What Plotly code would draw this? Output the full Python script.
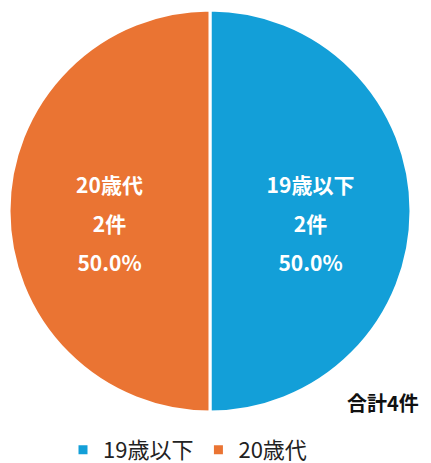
import plotly.graph_objects as go

labels = ["19歳以下", "20歳代"]
values = [2, 2]
colors = ["#139FD8", "#EA7433"]

FONT = "Noto Sans CJK JP"
sp = "<span style='font-size:21px;font-weight:bold'>"
tmpl = ("<span style='font-size:24px'>&nbsp;</span><br>" + sp + "%{label}</span><br><br>"
        + sp + "%{value}件</span><br><br>" + sp + "%{percent:.1%}</span>")

fig = go.Figure(go.Pie(
    labels=labels,
    values=values,
    sort=False,
    direction="clockwise",
    rotation=0,
    marker=dict(colors=colors, line=dict(color="white", width=3)),
    texttemplate=tmpl,
    textposition="inside",
    insidetextorientation="horizontal",
    textfont=dict(family=FONT, size=15, color="white"),
    hoverinfo="label+value+percent",
))

fig.update_layout(
    width=431, height=463,
    margin=dict(l=9, r=20, t=10, b=51, autoexpand=False),
    paper_bgcolor="white",
    plot_bgcolor="white",
    font=dict(family=FONT, color="#222222"),
    showlegend=True,
    legend=dict(orientation="h", xref="container", x=63 / 431, xanchor="left",
                yref="container", y=0.028, yanchor="middle",
                font=dict(family=FONT, size=22, color="#222222")),
    annotations=[dict(text=f"<b>合計{sum(values)}件</b>", x=0.930, y=0.0224, xref="paper", yref="paper",
                      xanchor="center", yanchor="middle", showarrow=False,
                      font=dict(family=FONT, size=20, color="#111111"))],
)

fig.write_html("out.html", config={"displayModeBar": False},
               post_script="document.body.style.margin='0px';")
